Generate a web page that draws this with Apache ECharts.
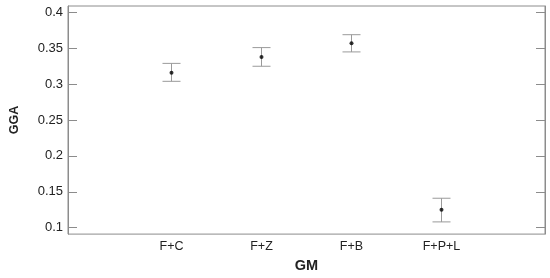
<!DOCTYPE html>
<html>
<head>
<meta charset="utf-8">
<script src="https://cdn.jsdelivr.net/npm/echarts@6/dist/echarts.min.js"></script>
<style>
  html, body { margin: 0; padding: 0; background: #fff; }
  #chart { width: 550px; height: 278px; }
</style>
</head>
<body>
<div id="chart"></div>
<script>
// groups on the x axis
const groups = ["F+C", "F+Z", "F+B", "F+P+L"];
const groupPos = [1, 2, 3, 4];
// mean and error bar ends
const means = [0.316, 0.338, 0.357, 0.125];
const lower = [0.304, 0.325, 0.345, 0.108];
const upper = [0.329, 0.351, 0.369, 0.141];
// y tick labels
const yTicks = [0.1, 0.15, 0.2, 0.25, 0.3, 0.35, 0.4];

const chart = echarts.init(document.getElementById("chart"));

const frame = "#8c8c8c";
const txt = "#222";
const font = "Liberation Sans, Arial, sans-serif";

const errData = groupPos.map((x, i) => [x, lower[i], upper[i]]);
const meanData = groupPos.map((x, i) => [x, means[i]]);

// same tick set on both sides, ticks point into the plot
const yTickStyle = {
  show: true, inside: true, length: 9,
  customValues: yTicks,
  lineStyle: { color: frame, width: 1 }
};

const option = {
  backgroundColor: "#fff",
  animation: false,
  grid: {
    left: 67, right: 5, top: 6, bottom: 36,
    show: true, borderColor: frame, borderWidth: 1, backgroundColor: "transparent"
  },
  xAxis: {
    type: "value",
    min: -0.15,
    max: 5.15,
    name: "GM",
    nameLocation: "middle",
    nameGap: 19,
    nameTextStyle: { fontFamily: font, fontWeight: "bold", fontSize: 14.5, color: txt },
    axisLine: { show: false },
    axisTick: { show: false },
    splitLine: { show: false },
    axisLabel: {
      customValues: groupPos,
      formatter: v => groups[groupPos.indexOf(Math.round(v))] || "",
      fontFamily: font, fontSize: 12.5, color: txt, margin: 6
    }
  },
  yAxis: [{
    type: "value",
    min: 0.091,
    max: 0.409,
    name: "GGA",
    nameLocation: "middle",
    nameGap: 47,
    nameTextStyle: { fontFamily: font, fontWeight: "bold", fontSize: 12.5, color: txt },
    axisLine: { show: true, onZero: false, lineStyle: { color: frame, width: 1 } },
    splitLine: { show: false },
    axisTick: yTickStyle,
    axisLabel: {
      customValues: yTicks,
      formatter: v => String(+v.toFixed(2)),
      fontFamily: font, fontSize: 13, color: txt, margin: 5
    }
  }, {
    type: "value",
    position: "right",
    min: 0.091,
    max: 0.409,
    axisLine: { show: true, onZero: false, lineStyle: { color: frame, width: 1 } },
    splitLine: { show: false },
    axisLabel: { show: false },
    axisTick: yTickStyle
  }],
  series: [{
    type: "custom",
    data: errData,
    renderItem: (params, api) => {
      const x = api.value(0);
      const lo = api.coord([x, api.value(1)]);
      const hi = api.coord([x, api.value(2)]);
      const hw = 9;
      const style = { stroke: "#9a9a9a", lineWidth: 1 };
      return {
        type: "group",
        children: [
          { type: "line", shape: { x1: lo[0], y1: lo[1], x2: hi[0], y2: hi[1] }, style },
          { type: "line", shape: { x1: lo[0] - hw, y1: lo[1], x2: lo[0] + hw, y2: lo[1] }, style },
          { type: "line", shape: { x1: hi[0] - hw, y1: hi[1], x2: hi[0] + hw, y2: hi[1] }, style }
        ]
      };
    },
    z: 2
  }, {
    type: "scatter",
    data: meanData,
    symbol: "circle",
    symbolSize: 4,
    itemStyle: { color: "#000" },
    z: 3
  }]
};

chart.setOption(option);
</script>
</body>
</html>
